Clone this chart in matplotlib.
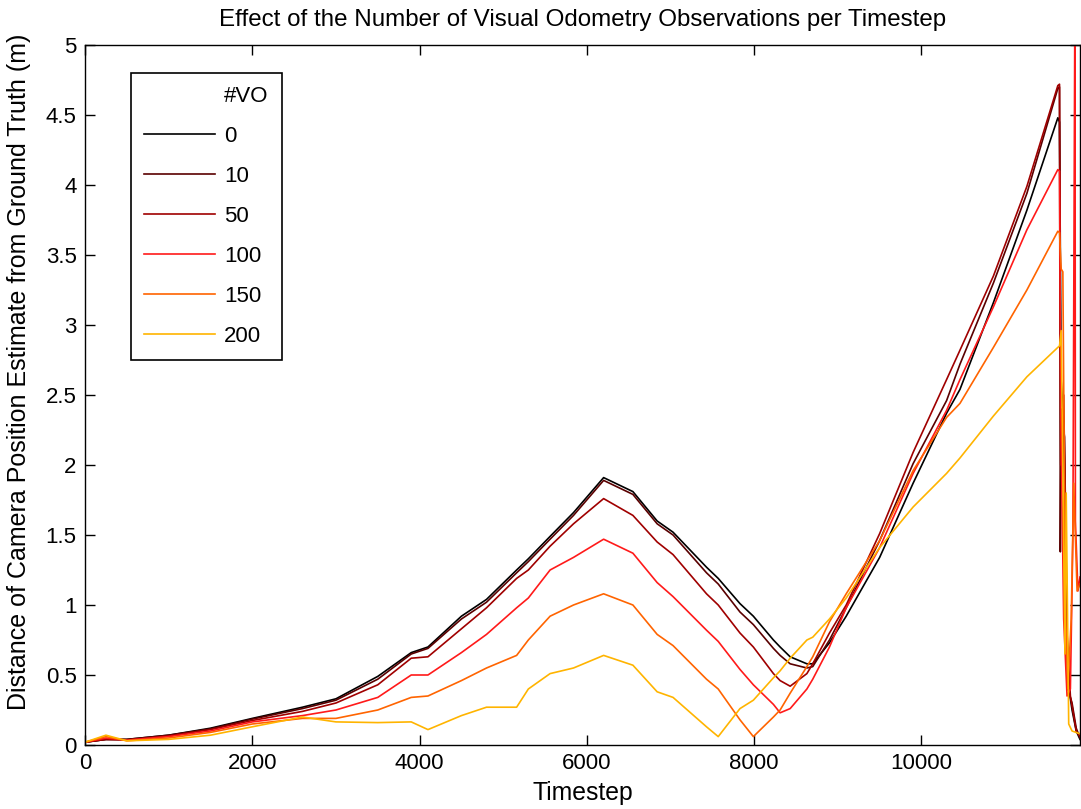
import numpy as np
import matplotlib.pyplot as plt
from matplotlib.lines import Line2D
from matplotlib.ticker import FormatStrFormatter

plt.rcParams['font.family'] = ['Liberation Sans', 'DejaVu Sans']

# ── Data ───────────────────────────────────────────────────────────────────
timestep = [0, 250, 500, 1000, 1500, 2000, 2600, 3000, 3500, 3900, 4100, 4500,
            4800, 5160, 5300, 5560, 5840, 6200, 6550, 6840, 7030, 7430, 7570,
            7830, 7990, 8230, 8310, 8430, 8630, 8700, 8900, 9100, 9500, 9900,
            10300, 10460, 10860, 11260, 11630]

vo_0 = [0.02, 0.04, 0.04, 0.07, 0.12, 0.19, 0.27, 0.33, 0.49, 0.66, 0.70, 0.92,
        1.04, 1.25, 1.33, 1.49, 1.66, 1.91, 1.81, 1.60, 1.52, 1.27, 1.19,
        1.01, 0.92, 0.75, 0.70, 0.63, 0.58, 0.58, 0.73, 0.92, 1.34, 1.87,
        2.37, 2.54, 3.16, 3.82, 4.48]
vo_10 = [0.02, 0.04, 0.04, 0.07, 0.115, 0.185, 0.26, 0.32, 0.47, 0.65, 0.69, 0.90,
         1.02, 1.23, 1.31, 1.47, 1.64, 1.89, 1.79, 1.58, 1.50, 1.23, 1.15,
         0.95, 0.86, 0.69, 0.64, 0.58, 0.55, 0.56, 0.75, 0.98, 1.46, 2.01,
         2.46, 2.72, 3.30, 3.94, 4.69]
vo_50 = [0.02, 0.04, 0.035, 0.065, 0.11, 0.175, 0.24, 0.30, 0.43, 0.62, 0.63, 0.83,
         0.98, 1.19, 1.25, 1.42, 1.58, 1.76, 1.64, 1.45, 1.36, 1.08, 1.00,
         0.80, 0.70, 0.51, 0.46, 0.42, 0.51, 0.58, 0.80, 1.00, 1.51, 2.09,
         2.61, 2.82, 3.35, 3.99, 4.71]
vo_100 = [0.02, 0.05, 0.035, 0.06, 0.10, 0.165, 0.21, 0.25, 0.34, 0.50, 0.50, 0.66,
          0.79, 0.98, 1.05, 1.25, 1.34, 1.47, 1.37, 1.16, 1.06, 0.82, 0.74,
          0.54, 0.43, 0.29, 0.23, 0.26, 0.40, 0.47, 0.70, 0.98, 1.41, 1.94,
          2.39, 2.61, 3.13, 3.68, 4.11]
vo_150 = [0.02, 0.06, 0.03, 0.05, 0.09, 0.15, 0.19, 0.19, 0.25, 0.34, 0.35, 0.46,
          0.55, 0.64, 0.75, 0.92, 1.00, 1.08, 1.00, 0.79, 0.71, 0.47, 0.40,
          0.18, 0.06, 0.20, 0.25, 0.37, 0.56, 0.63, 0.88, 1.08, 1.46, 1.96,
          2.34, 2.44, 2.84, 3.25, 3.67]
vo_200 = [0.02, 0.07, 0.03, 0.04, 0.07, 0.13, 0.20, 0.165, 0.16, 0.165, 0.11, 0.21,
          0.27, 0.27, 0.40, 0.51, 0.55, 0.64, 0.57, 0.38, 0.34, 0.13, 0.06,
          0.26, 0.32, 0.48, 0.53, 0.62, 0.75, 0.77, 0.90, 1.05, 1.41, 1.70,
          1.94, 2.05, 2.35, 2.63, 2.84]

# end of the run: sharp drop after the peak
tail_x_0 = [11650, 11670, 11700, 11750, 11800, 11850, 11895]
tail_0 = [4.45, 2.6, 2.3, 0.45, 0.25, 0.10, 0.04]
tail_x_10 = [11650, 11660, 11670, 11710, 11750, 11800, 11850, 11895]
tail_10 = [4.70, 1.38, 2.4, 2.2, 0.40, 0.30, 0.12, 0.05]
tail_x_50 = [11650, 11665, 11700, 11740, 11780, 11850, 11895]
tail_50 = [4.72, 2.0, 2.5, 0.8, 0.35, 0.10, 0.06]
tail_x_100 = [11650, 11665, 11700, 11740, 11780, 11810, 11835, 11840, 11870, 11895]
tail_100 = [4.10, 2.4, 0.9, 0.35, 0.40, 1.5, 5.5, 1.6, 1.1, 1.2]
tail_x_150 = [11650, 11670, 11690, 11720, 11750, 11790, 11820, 11860, 11895]
tail_150 = [3.66, 3.40, 3.38, 1.0, 0.40, 0.9, 1.87, 1.1, 1.15]
tail_x_200 = [11650, 11670, 11715, 11730, 11760, 11800, 11895]
tail_200 = [2.85, 2.96, 0.65, 1.8, 0.15, 0.10, 0.08]

labels = ["0", "10", "50", "100", "150", "200"]
series = [(vo_0, tail_x_0, tail_0), (vo_10, tail_x_10, tail_10),
          (vo_50, tail_x_50, tail_50), (vo_100, tail_x_100, tail_100),
          (vo_150, tail_x_150, tail_150), (vo_200, tail_x_200, tail_200)]
colors = ["#000000", "#5a0000", "#a00000", "#ff1a1a", "#ff6400", "#ffb400"]

# ── Plot ───────────────────────────────────────────────────────────────────
fig = plt.figure(figsize=(10.81, 8.09), dpi=100)
ax = fig.add_axes([85 / 1081, 64 / 809, 995 / 1081, 700 / 809])

handles = [Line2D([], [], color="none", label="#VO")]
for (vals, tx, ty), lab, c in zip(series, labels, colors):
    xs = timestep + tx
    ys = vals + ty
    ln, = ax.plot(xs, ys, color=c, lw=1.2, label=lab)
    handles.append(ln)

ax.set_xlim(0, 11895)
ax.set_ylim(0, 5)
ax.set_xticks([0, 2000, 4000, 6000, 8000, 10000])
ax.set_yticks(np.arange(0, 5.01, 0.5))
ax.yaxis.set_major_formatter(FormatStrFormatter("%g"))
ax.tick_params(direction="in", top=True, right=True, length=7, width=1,
               labelsize=16, pad=6)
for s in ax.spines.values():
    s.set_linewidth(1.0)

ax.set_title("Effect of the Number of Visual Odometry Observations per Timestep",
             fontsize=17.4, pad=14)
ax.set_xlabel("Timestep", fontsize=17.8, labelpad=5)
ax.set_ylabel("Distance of Camera Position Estimate from Ground Truth (m)",
              fontsize=18)
ax.yaxis.set_label_coords(-0.054, 0.533)

leg = ax.legend(handles=handles, loc="upper left", bbox_to_anchor=(0.046, 0.96),
                borderaxespad=0, fontsize=16, handlelength=3.2, handletextpad=0.4,
                labelspacing=0.85, fancybox=False, framealpha=1, edgecolor="black",
                borderpad=0.6)
leg.get_frame().set_linewidth(1.2)

plt.savefig("out.png", dpi=100)
